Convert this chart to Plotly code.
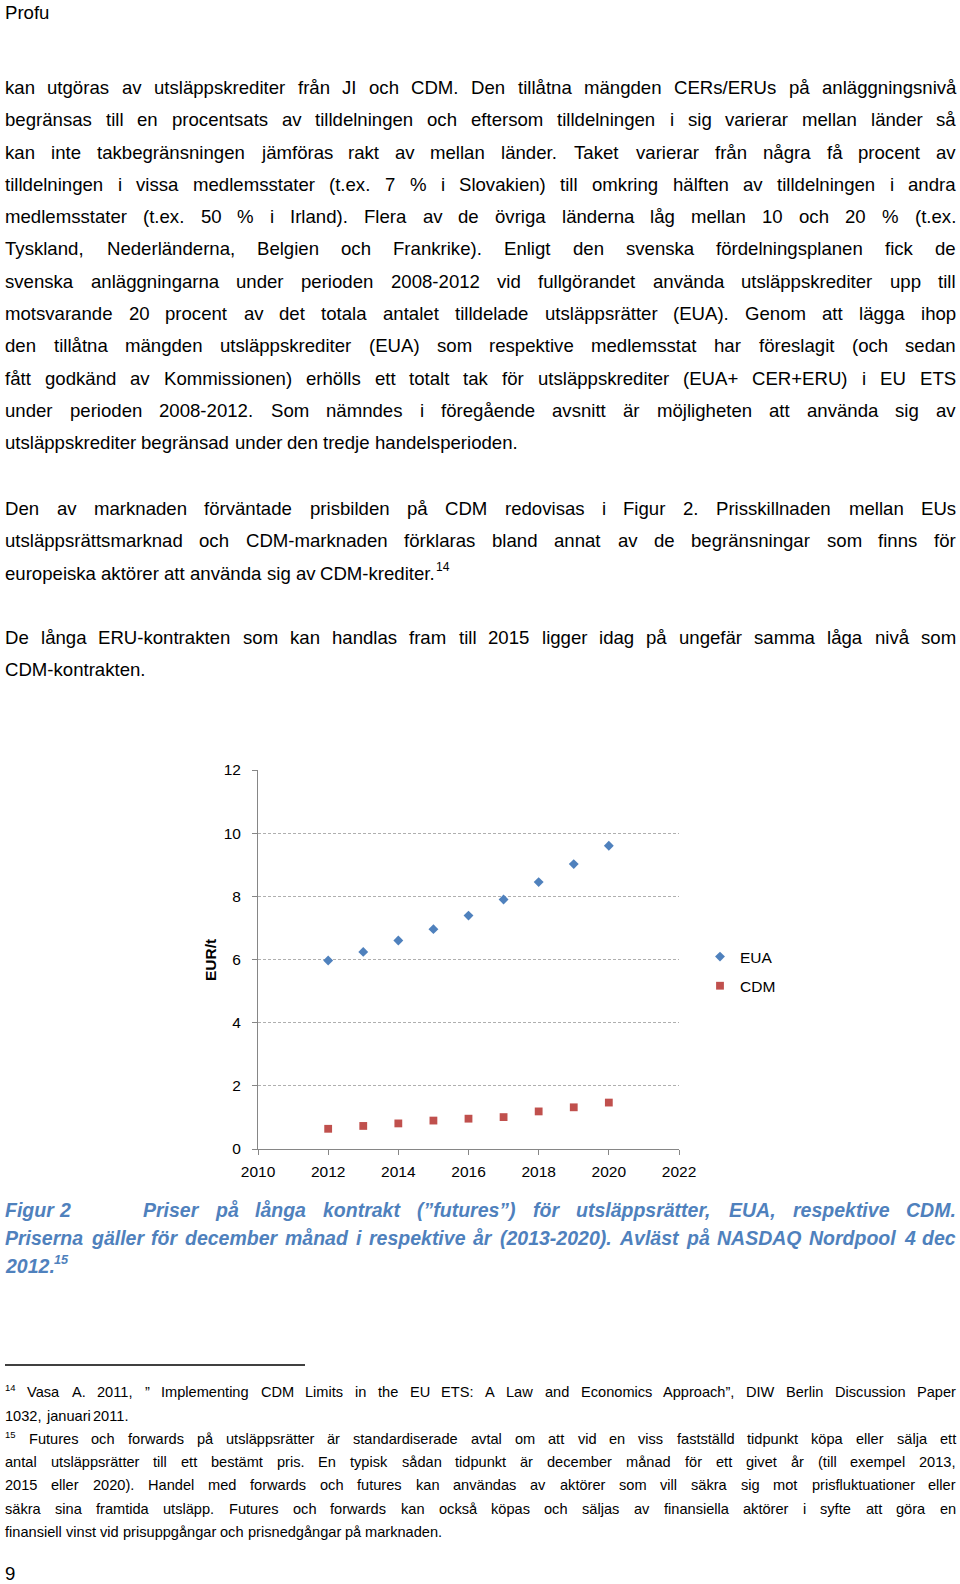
import plotly.graph_objects as go

# ---------------- data ----------------
years = [2012, 2013, 2014, 2015, 2016, 2017, 2018, 2019, 2020]
eua = [5.97, 6.24, 6.60, 6.96, 7.39, 7.90, 8.45, 9.02, 9.60]
cdm = [0.64, 0.73, 0.81, 0.90, 0.96, 1.01, 1.19, 1.32, 1.47]
x_ticks = [2010, 2012, 2014, 2016, 2018, 2020, 2022]
y_ticks = [0, 2, 4, 6, 8, 10, 12]

header = "Profu"
para1 = [
    "kan utgöras av utsläppskrediter från JI och CDM. Den tillåtna mängden CERs/ERUs på anläggningsnivå",
    "begränsas till en procentsats av tilldelningen och eftersom tilldelningen i sig varierar mellan länder så",
    "kan inte takbegränsningen jämföras rakt av mellan länder. Taket varierar från några få procent av",
    "tilldelningen i vissa medlemsstater (t.ex. 7 % i Slovakien) till omkring hälften av tilldelningen i andra",
    "medlemsstater (t.ex. 50 % i Irland). Flera av de övriga länderna låg mellan 10 och 20 % (t.ex.",
    "Tyskland, Nederländerna, Belgien och Frankrike). Enligt den svenska fördelningsplanen fick de",
    "svenska anläggningarna under perioden 2008-2012 vid fullgörandet använda utsläppskrediter upp till",
    "motsvarande 20 procent av det totala antalet tilldelade utsläppsrätter (EUA). Genom att lägga ihop",
    "den tillåtna mängden utsläppskrediter (EUA) som respektive medlemsstat har föreslagit (och sedan",
    "fått godkänd av Kommissionen) erhölls ett totalt tak för utsläppskrediter (EUA+ CER+ERU) i EU ETS",
    "under perioden 2008-2012. Som nämndes i föregående avsnitt är möjligheten att använda sig av",
    "utsläppskrediter begränsad under den tredje handelsperioden.",
]
para2 = [
    "Den av marknaden förväntade prisbilden på CDM redovisas i Figur 2. Prisskillnaden mellan EUs",
    "utsläppsrättsmarknad och CDM-marknaden förklaras bland annat av de begränsningar som finns för",
    "europeiska aktörer att använda sig av CDM-krediter.^14",
]
para3 = [
    "De långa ERU-kontrakten som kan handlas fram till 2015 ligger idag på ungefär samma låga nivå som",
    "CDM-kontrakten.",
]
caption_label = "Figur 2"
caption = [
    "Priser på långa kontrakt (”futures”) för utsläppsrätter, EUA, respektive CDM.",
    "Priserna gäller för december månad i respektive år (2013-2020). Avläst på NASDAQ Nordpool 4 dec",
    "2012.^15",
]
footnotes = [
    "^14 Vasa A. 2011, ” Implementing CDM Limits in the EU ETS: A Law and Economics Approach”, DIW Berlin Discussion Paper",
    "1032, januari 2011.",
    "^15 Futures och forwards på utsläppsrätter är standardiserade avtal om att vid en viss fastställd tidpunkt köpa eller sälja ett",
    "antal utsläppsrätter till ett bestämt pris. En typisk sådan tidpunkt är december månad för ett givet år (till exempel 2013,",
    "2015 eller 2020). Handel med forwards och futures kan användas av aktörer som vill säkra sig mot prisfluktuationer eller",
    "säkra sina framtida utsläpp. Futures och forwards kan också köpas och säljas av finansiella aktörer i syfte att göra en",
    "finansiell vinst vid prisuppgångar och prisnedgångar på marknaden.",
]
page_no = "9"

# ---------------- font metrics (Arial / Liberation Sans, per 1000 em) ----------------
REG = {" ": 278, '"': 355, "%": 889, "(": 333, ")": 333, ",": 278, "-": 333, ".": 278, "/": 278,
       ":": 278, ";": 278, "+": 584, "”": 333, "“": 333, "’": 222, "'": 191}
for d in "0123456789":
    REG[d] = 556
REG.update(dict(A=667, B=667, C=722, D=722, E=667, F=611, G=778, H=722, I=278, J=500, K=667, L=556,
                M=833, N=722, O=778, P=667, Q=778, R=722, S=667, T=611, U=722, V=667, W=944, X=667,
                Y=667, Z=611))
REG.update(dict(a=556, b=556, c=500, d=556, e=556, f=278, g=556, h=556, i=222, j=222, k=500, l=222,
                m=833, n=556, o=556, p=556, q=556, r=333, s=500, t=278, u=556, v=500, w=722, x=500,
                y=500, z=500))
REG.update({"å": 556, "ä": 556, "ö": 556, "Å": 667, "Ä": 667, "Ö": 778, "é": 556})

BOLD = {" ": 278, '"': 474, "%": 889, "(": 333, ")": 333, ",": 278, "-": 333, ".": 278, "/": 278,
        ":": 333, "+": 584, "”": 500, "“": 500}
for d in "0123456789":
    BOLD[d] = 556
BOLD.update(dict(A=722, B=722, C=722, D=722, E=667, F=611, G=778, H=722, I=278, J=556, K=722, L=611,
                 M=833, N=722, O=778, P=667, Q=778, R=722, S=667, T=611, U=722, V=667, W=944, X=667,
                 Y=667, Z=611))
BOLD.update(dict(a=556, b=611, c=556, d=611, e=556, f=333, g=611, h=611, i=278, j=278, k=556, l=278,
                 m=889, n=611, o=611, p=611, q=611, r=389, s=556, t=333, u=611, v=556, w=778, x=556,
                 y=556, z=500))
BOLD.update({"å": 556, "ä": 556, "ö": 611, "Å": 722, "Ä": 722, "Ö": 778})

FONT = "Liberation Sans"
W_PAGE, H_PAGE = 960, 1584
SUP = 0.65
YOFF = 0.35


def sw(s, table, size):
    return sum(table.get(c, 556) for c in s) * size / 1000.0


def tok_w(tok, table, size):
    main, _, sup = tok.partition("^")
    return sw(main, table, size) + sw(sup, table, size * SUP)


def natural(line, table):
    toks = line.split(" ")
    return sum(tok_w(t, table, 1000) for t in toks) + (len(toks) - 1) * table[" "]


annotations = []


def px(x):
    return x / W_PAGE


def py(y):
    return 1 - y / H_PAGE


def put(text, x, y_center, size, color, weight="normal", style="normal", xanchor="left", angle=0,
        yanchor="middle"):
    annotations.append(dict(
        text=text, x=px(x), y=py(y_center), xref="paper", yref="paper", xanchor=xanchor,
        yanchor=yanchor, showarrow=False, borderpad=0, borderwidth=0, textangle=angle,
        font=dict(family=FONT, size=size, color=color, weight=weight, style=style)))


def line_out(line, baseline, x0, x1, size, table, justify, color="#000000", weight="normal",
             style="normal"):
    toks = line.split(" ")
    widths = [tok_w(t, table, size) for t in toks]
    if justify and len(toks) > 1:
        gap = (x1 - x0 - sum(widths)) / (len(toks) - 1)
    else:
        gap = table[" "] * size / 1000.0
    x = x0
    yc = baseline - YOFF * size
    for t, wd in zip(toks, widths):
        main, _, sup = t.partition("^")
        if main:
            put(main, x, yc, size, color, weight, style)
        if sup:
            put(sup, x + sw(main, table, size), baseline - 0.67 * size, size * SUP, color, weight,
                style)
        x += wd + gap


X0, X1 = 5, 956

# body size fitted to the tightest justified line
just_lines = para1[:-1] + para2[:-1] + para3[:-1]
body = min(18.6, min((X1 - X0) * 1000.0 / natural(l, REG) for l in just_lines) * 0.998)

put(header, X0, 19 - YOFF * body, body, "#000000")
for i, l in enumerate(para1):
    line_out(l, 94 + 32.3 * i, X0, X1, body, REG, i < len(para1) - 1)
for i, l in enumerate(para2):
    line_out(l, 515 + 32.3 * i, X0, X1, body, REG, i < len(para2) - 1)
for i, l in enumerate(para3):
    line_out(l, 644 + 32.3 * i, X0, X1, body, REG, i < len(para3) - 1)

# caption
CAP_COL = "#4F81BD"
cap = min(19.5, (X1 - X0) * 1000.0 / natural(caption[1], BOLD) * 0.998,
          (X1 - 142.7) * 1000.0 / natural(caption[0], BOLD) * 0.998)
cap_base = [1216.7, 1245, 1272.7]
line_out(caption_label, cap_base[0], X0, X1, cap, BOLD, False, CAP_COL, "bold", "italic")
line_out(caption[0], cap_base[0], 142.7, X1, cap, BOLD, True, CAP_COL, "bold", "italic")
line_out(caption[1], cap_base[1], X0, X1, cap, BOLD, True, CAP_COL, "bold", "italic")
line_out(caption[2], cap_base[2], X0, X1, cap, BOLD, False, CAP_COL, "bold", "italic")

# footnotes
foot_just = [True, False, True, True, True, True, False]
foot = min(14.6, min((X1 - X0) * 1000.0 / natural(l, REG) for l, j in zip(footnotes, foot_just) if j)
           * 0.998)
foot_base = [1397.5, 1420.7, 1444, 1467, 1490.5, 1513.7, 1537]
for l, j, b in zip(footnotes, foot_just, foot_base):
    line_out(l, b, X0, X1, foot, REG, j)

# page number, box bottom resting on the page edge
put(page_no, X0, H_PAGE - 0.5, body, "#000000", yanchor="bottom")

# y-axis title of chart
put("EUR/t", 210, 960, 15.5, "#000000", weight="bold", angle=-90, xanchor="center")

# footnote separator rule (page decoration)
shapes = [dict(type="line", xref="paper", yref="paper", x0=px(5), x1=px(305), y0=py(1365),
               y1=py(1365), line=dict(color="#000000", width=1.3))]

# ---------------- figure ----------------
fig = go.Figure()
fig.add_trace(go.Scatter(x=years, y=eua, mode="markers", name="EUA", legendgroup="a",
                         marker=dict(symbol="diamond", size=7.6, color="#4F81BD")))
fig.add_trace(go.Scatter(x=years, y=cdm, mode="markers", name="CDM", legendgroup="b",
                         marker=dict(symbol="square", size=7.8, color="#C0504D")))

AX_COL = "#868686"
fig.update_layout(
    width=W_PAGE, height=H_PAGE, autosize=False,
    margin=dict(l=0, r=0, t=0, b=0, pad=0, autoexpand=False),
    paper_bgcolor="white", plot_bgcolor="white",
    font=dict(family=FONT, color="#000000"),
    annotations=annotations,
    shapes=shapes,
    showlegend=True,
    legend=dict(x=px(700), y=py(940), xanchor="left", yanchor="top",
                font=dict(family=FONT, size=15.5, color="#000000"),
                traceorder="grouped", tracegroupgap=6, bgcolor="rgba(0,0,0,0)"),
    xaxis=dict(domain=[px(258), px(679)], range=[2010, 2022], tickvals=x_ticks,
               ticktext=[str(v) for v in x_ticks], showgrid=False, zeroline=False,
               showline=True, linecolor=AX_COL, linewidth=1, ticks="outside", ticklen=5,
               tickcolor=AX_COL, ticklabelstandoff=3,
               tickfont=dict(family=FONT, size=15.5, color="#000000")),
    yaxis=dict(domain=[py(1149), py(770)], range=[0, 12], tickvals=y_ticks,
               ticktext=[str(v) for v in y_ticks], showgrid=True, gridcolor="#AFAFAF",
               griddash="3px,2px", gridwidth=1, zeroline=False, showline=True,
               linecolor=AX_COL, linewidth=1, ticks="outside", ticklen=5, tickcolor=AX_COL,
               ticklabelstandoff=8,
               tickfont=dict(family=FONT, size=15.5, color="#000000")),
)

fig.write_html("out.html", config={"displayModeBar": False},
               post_script="document.body.style.margin='0';")
